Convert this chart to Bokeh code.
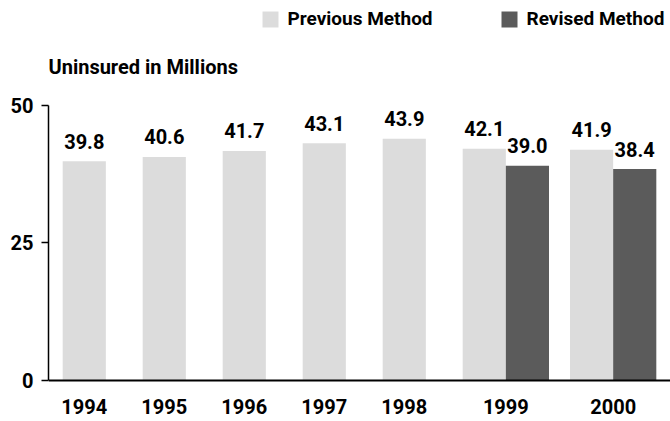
from bokeh.plotting import figure
from bokeh.models import (FactorRange, Range1d, FixedTicker, Legend, LegendItem,
                          ColumnDataSource, Label)
from bokeh.core.properties import value
from bokeh.embed import file_html
from bokeh.resources import INLINE

# ---- data ----
years = ["1994", "1995", "1996", "1997", "1998", "1999", "2000"]
previous = [39.8, 40.6, 41.7, 43.1, 43.9, 42.1, 41.9]
revised_years = ["1999", "2000"]
revised = [39.0, 38.4]
series = ["Previous Method", "Revised Method"]
y_ticks = [0, 25, 50]
y_title = "Uninsured in Millions"
# hidden outer level, used only to reproduce the uneven spacing of the bars
spacing_group = ["a", "a", "a", "a", "a", "a", "b"]

FONT = "Roboto"
FS = "20px"
LIGHT = "#dcdcdc"
DARK = "#5b5b5b"

group_of = dict(zip(years, spacing_group))
factors = []
for yr in years:
    factors.append((group_of[yr], yr, series[0]))
    if yr in revised_years:
        factors.append((group_of[yr], yr, series[1]))

x_range = FactorRange(factors=factors, factor_padding=0, subgroup_padding=0.854,
                      group_padding=0.487, range_padding=0.0478,
                      range_padding_units="percent")

# frame fills the canvas height; the visible axis spans 0..50 only
p = figure(x_range=x_range, y_range=Range1d(-7.45, 69.02), width=670, height=421,
           output_backend="svg", toolbar_location=None,
           min_border_left=48, min_border_right=0, min_border_top=0,
           min_border_bottom=0)
p.xgrid.visible = False
p.ygrid.visible = False
p.outline_line_color = None
p.background_fill_color = "white"
p.border_fill_color = "white"

prev_src = ColumnDataSource(dict(
    x=[(group_of[y], y, series[0]) for y in years],
    top=previous,
    label=[f"{v:.1f}" for v in previous]))
rev_src = ColumnDataSource(dict(
    x=[(group_of[y], y, series[1]) for y in revised_years],
    top=revised,
    label=[f"{v:.1f}" for v in revised]))

r1 = p.vbar(x="x", top="top", bottom=0, width=1.0, source=prev_src,
            fill_color=LIGHT, line_color=None)
r2 = p.vbar(x="x", top="top", bottom=0, width=1.0, source=rev_src,
            fill_color=DARK, line_color=None)

for src in (prev_src, rev_src):
    p.text(x="x", y="top", text="label", source=src, text_align="center",
           text_baseline="alphabetic", y_offset=-20,
           text_font=value(FONT), text_font_size=FS,
           text_font_style="bold", text_color="black")

# chart heading (y-axis title), left-aligned with the axis
p.add_layout(Label(x=0, y=354.5, x_units="screen", y_units="screen",
                   text=y_title, text_font=FONT, text_font_size=FS,
                   text_font_style="bold", text_color="black",
                   text_baseline="alphabetic", text_align="left"))

# x axis
xa = p.xaxis[0]
xa.fixed_location = 0
xa.axis_line_color = "black"
xa.axis_line_width = 2
xa.major_tick_line_color = None
xa.minor_tick_line_color = None
xa.major_tick_out = 0
xa.major_tick_in = 0
xa.major_label_text_color = None
xa.major_label_standoff = 19
xa.separator_line_color = None
xa.group_text_color = None
xa.subgroup_text_font = FONT
xa.subgroup_text_font_size = FS
xa.subgroup_text_font_style = "bold"
xa.subgroup_text_color = "black"

# y axis
ya = p.yaxis[0]
ya.ticker = FixedTicker(ticks=y_ticks)
ya.bounds = (0, 50)
ya.axis_line_color = "black"
ya.axis_line_width = 1.5
ya.major_tick_line_color = "black"
ya.major_tick_line_width = 1.5
ya.major_tick_out = 7
ya.major_tick_in = 0
ya.minor_tick_line_color = None
ya.major_label_standoff = 8
ya.major_label_text_font = FONT
ya.major_label_text_font_size = FS
ya.major_label_text_font_style = "bold"
ya.major_label_text_color = "black"

legend = Legend(items=[LegendItem(label=series[0], renderers=[r1]),
                       LegendItem(label=series[1], renderers=[r2])],
                orientation="horizontal", location=(211.5, 391),
                glyph_width=20, glyph_height=20, label_standoff=8, spacing=66,
                padding=0, margin=0, border_line_color=None,
                background_fill_alpha=0,
                label_text_font=FONT, label_text_font_size="19px",
                label_text_font_style="bold", label_text_color="black")
p.add_layout(legend, "center")

open("out.html", "w").write(file_html(p, INLINE))
